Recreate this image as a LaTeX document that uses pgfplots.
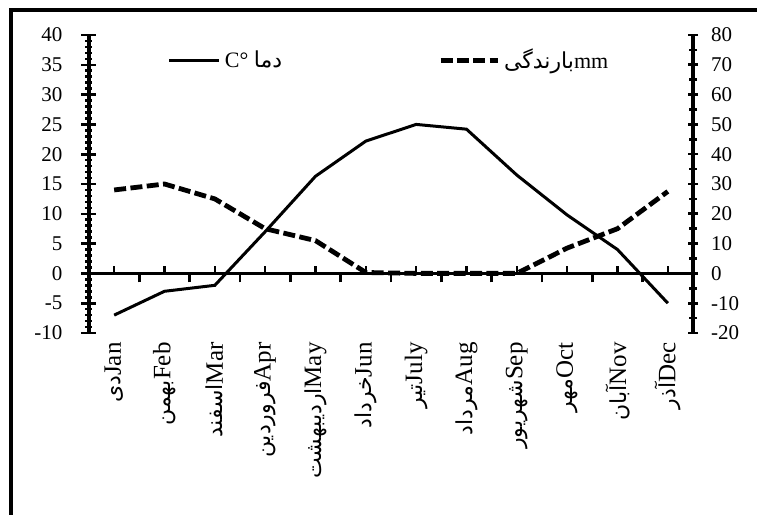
\documentclass[border=0pt]{standalone}
\usepackage{fontspec}
\setmainfont{Liberation Serif}
\newfontfamily\arabicfont[Script=Arabic]{DejaVu Sans}
\TeXXeTstate=1
\usepackage{pgfplots}
\usepackage{pgfplotstable}
\pgfplotsset{compat=1.18}

\newcommand{\fa}[1]{{\arabicfont\fontsize{11}{13}\selectfont\beginR #1\endR}}

% month, temperature (C), precipitation (mm)
\pgfplotstableread{
m temp rain
1  -7    28
2  -3    30
3  -2    25
4   7    15
5  16.3  11
6  22.2  0.3
7  25    0
8  24.2  0
9  16.5  0
10  9.8  8.5
11  4    15
12 -5    27.5
}\climate

\tikzset{
  temp/.style={black, line width=1.5pt},
  rain/.style={black, line width=2.4pt, dash pattern=on 6pt off 2.2pt},
}
\pgfplotsset{
  common/.style={
    scale only axis, width=302pt, height=149pt,
    xmin=0.5, xmax=12.5,
    axis line style={line width=1.8pt,-},
    tick style={line width=1.3pt,black},
    font=\fontsize{10.5}{12}\selectfont,
    /pgf/number format/assume math mode=true,
  },
  % upper part of the box, its bottom edge on the zero line
  zeroline/.style={common, at={(0pt,29.8pt)}, height=119.2pt,
    ymin=0, ymax=1, axis x line*=bottom, axis y line=none, xticklabels={}},
}

\begin{document}
\begin{tikzpicture}
\path[use as bounding box] (-44.5pt,-91pt) rectangle (334pt,166.5pt);

\begin{axis}[common,
  axis y line*=left, axis x line*=bottom,
  x axis line style={draw=none},
  major x tick style={draw=none},
  ymin=-10, ymax=40, ytick={-10,-5,...,40},
  minor y tick num=4,
  ytick align=center, major tick length=7.5pt, minor tick length=3.5pt,
  yticklabel style={xshift=-6pt},
  xtick={1,...,12},
  xticklabels={{\fa{دی}Jan},{\fa{بهمن}Feb},{\fa{اسفند}Mar},{\fa{فروردین}Apr},
    {\fa{اردیبهشت}May},{\fa{خرداد}Jun},{\fa{تیر}July},{\fa{مرداد}Aug},
    {\fa{شهریور}Sep},{\fa{مهر}Oct},{\fa{آبان}Nov},{\fa{آذر}Dec}},
  xticklabel style={rotate=90, anchor=east, inner sep=4.5pt, font=\fontsize{12.5}{14}\selectfont},
  legend columns=2,
  legend style={draw=none, fill=none, at={(axis description cs:0.12,0.915)}, anchor=west,
    font=\fontsize{11}{13}\selectfont,
    /tikz/every even column/.append style={column sep=76pt}},
  legend image code/.code={\draw[#1] (0pt,0pt) -- (25pt,0pt);},
]
\addplot[temp] table[x=m, y=temp] {\climate};
\addlegendentry{C°~\fa{دما}}
\addlegendimage{legend image code/.code={\draw[rain] (0pt,0pt) -- (28.6pt,0pt);}}
\addlegendentry{\fa{بارندگی}mm}
\end{axis}

\begin{axis}[common,
  axis y line*=right, axis x line=none,
  ymin=-20, ymax=80, ytick={-20,-10,...,80},
  minor y tick num=1,
  ytick align=center, major tick length=5pt, minor tick length=4pt,
  yticklabel style={xshift=3pt},
]
\addplot[rain] table[x=m, y=rain] {\climate};
\end{axis}

% zero line with ticks up at the months
\begin{axis}[zeroline,
  xtick={1,...,12}, tick align=inside, major tick length=3.5pt,
]
\end{axis}
% ticks down between the months
\begin{axis}[zeroline,
  x axis line style={draw=none},
  xtick={1.5,2.5,...,11.5}, tick align=outside, major tick length=4.5pt,
]
\end{axis}

\draw[line width=1.6pt] (-39pt,-92pt) -- (-39pt,161.5pt) -- (335pt,161.5pt);
\end{tikzpicture}
\end{document}
